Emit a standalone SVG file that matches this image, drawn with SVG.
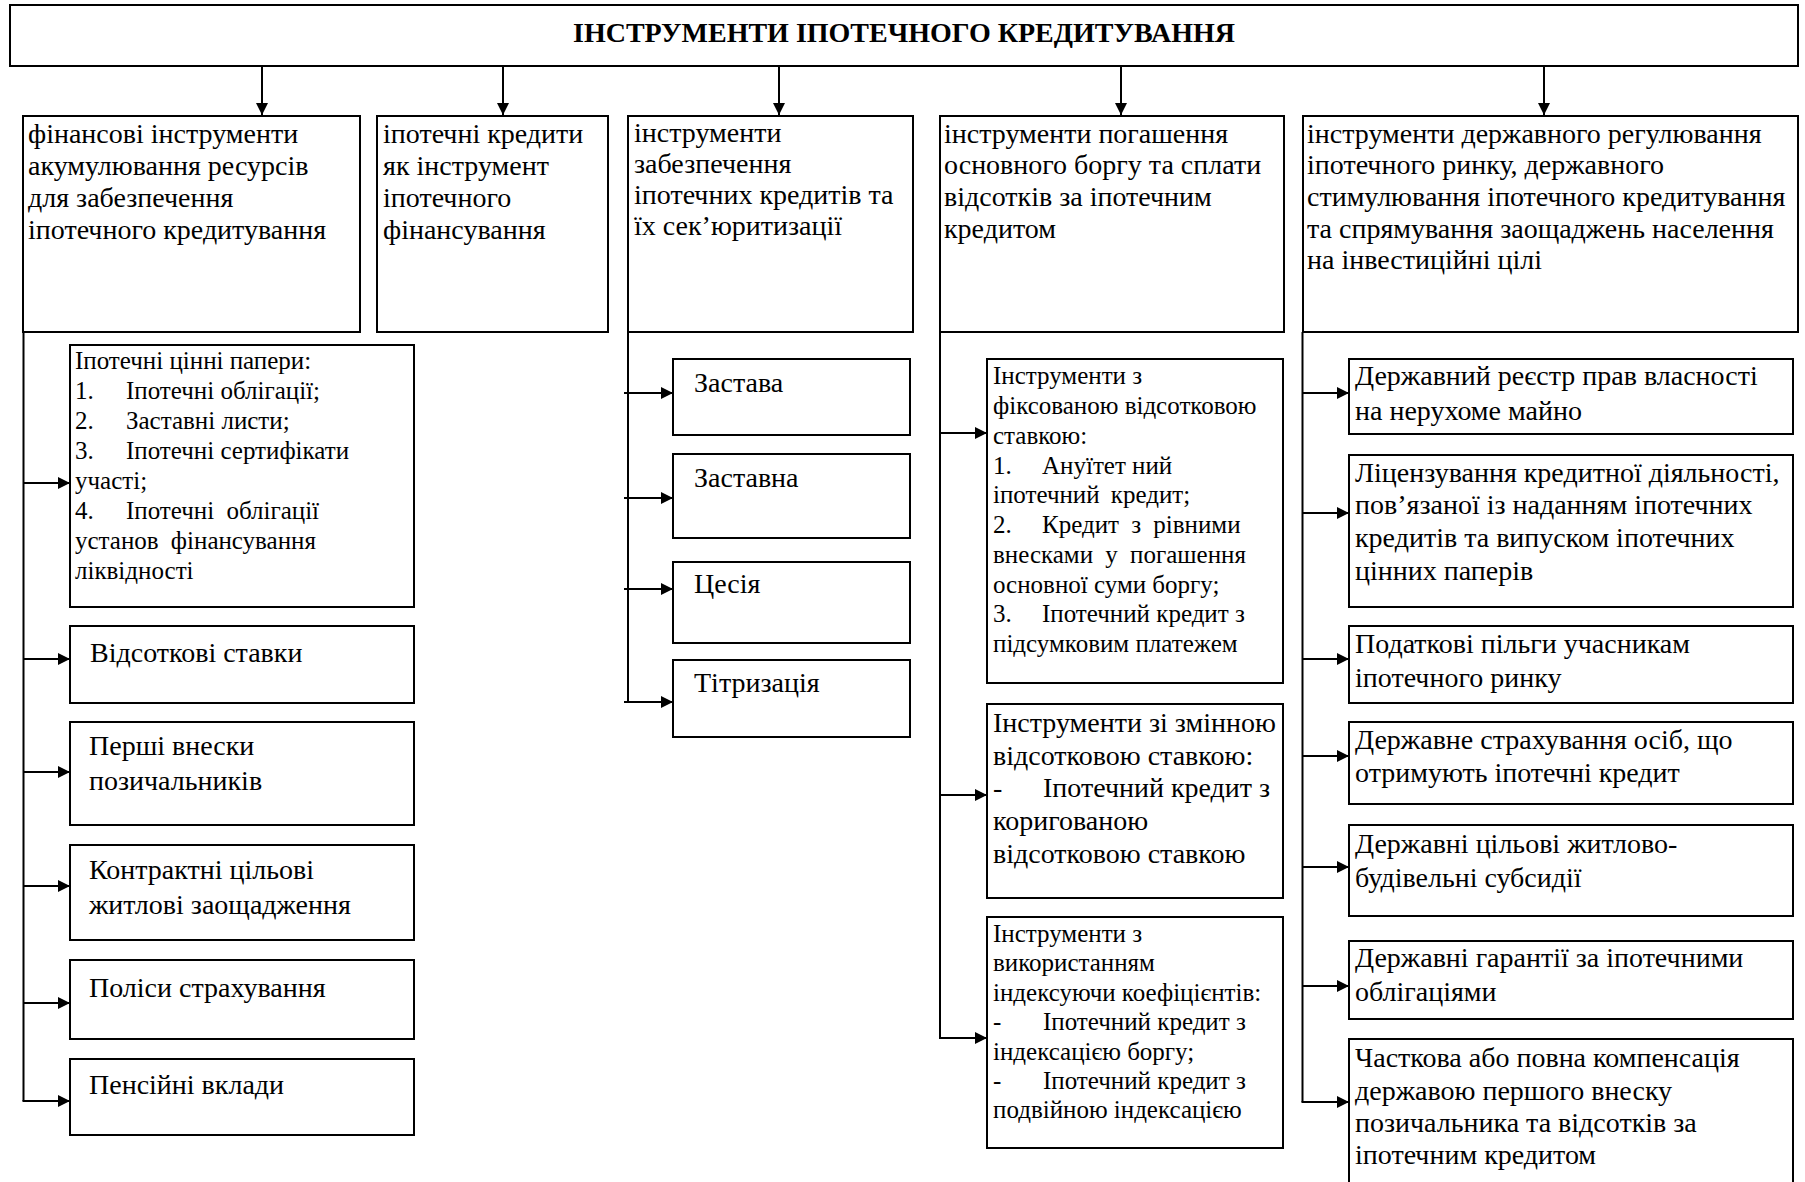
<svg xmlns="http://www.w3.org/2000/svg" width="1805" height="1182" viewBox="0 0 1805 1182">
<style>
.box{fill:#fff;stroke:#000;stroke-width:2}
.t{font-family:"Liberation Serif","Times New Roman",serif;font-size:28px;fill:#000}
.s{font-family:"Liberation Serif","Times New Roman",serif;font-size:25px;fill:#000}
.title{font-family:"Liberation Serif","Times New Roman",serif;font-size:28px;font-weight:bold;fill:#000}
.ln{stroke:#000;stroke-width:2;fill:none}
</style>
<defs>
<marker id="ah" markerUnits="userSpaceOnUse" markerWidth="13" markerHeight="13" refX="12" refY="6" orient="auto">
<path d="M0,0 L12,6 L0,12 z" fill="#000"/>
</marker>
</defs>
<rect width="1805" height="1182" fill="#fff"/>

<g id="connectors">
<line class="ln" x1="262" y1="66" x2="262" y2="115" marker-end="url(#ah)"/>
<line class="ln" x1="503" y1="66" x2="503" y2="115" marker-end="url(#ah)"/>
<line class="ln" x1="779" y1="66" x2="779" y2="115" marker-end="url(#ah)"/>
<line class="ln" x1="1121" y1="66" x2="1121" y2="115" marker-end="url(#ah)"/>
<line class="ln" x1="1544" y1="66" x2="1544" y2="115" marker-end="url(#ah)"/>

<line class="ln" x1="23.5" y1="332" x2="23.5" y2="1101"/>
<line class="ln" x1="23.5" y1="483" x2="70" y2="483" marker-end="url(#ah)"/>
<line class="ln" x1="23.5" y1="659" x2="70" y2="659" marker-end="url(#ah)"/>
<line class="ln" x1="23.5" y1="772" x2="70" y2="772" marker-end="url(#ah)"/>
<line class="ln" x1="23.5" y1="886" x2="70" y2="886" marker-end="url(#ah)"/>
<line class="ln" x1="23.5" y1="1003" x2="70" y2="1003" marker-end="url(#ah)"/>
<line class="ln" x1="22.5" y1="1101" x2="70" y2="1101" marker-end="url(#ah)"/>

<line class="ln" x1="628" y1="332" x2="628" y2="702"/>
<line class="ln" x1="624" y1="393" x2="673" y2="393" marker-end="url(#ah)"/>
<line class="ln" x1="624" y1="498" x2="673" y2="498" marker-end="url(#ah)"/>
<line class="ln" x1="624" y1="589" x2="673" y2="589" marker-end="url(#ah)"/>
<line class="ln" x1="624" y1="702" x2="673" y2="702" marker-end="url(#ah)"/>

<line class="ln" x1="940" y1="332" x2="940" y2="1038"/>
<line class="ln" x1="940" y1="433" x2="987" y2="433" marker-end="url(#ah)"/>
<line class="ln" x1="940" y1="795" x2="987" y2="795" marker-end="url(#ah)"/>
<line class="ln" x1="939" y1="1038" x2="987" y2="1038" marker-end="url(#ah)"/>

<line class="ln" x1="1302.5" y1="332" x2="1302.5" y2="1102"/>
<line class="ln" x1="1302.5" y1="393" x2="1349" y2="393" marker-end="url(#ah)"/>
<line class="ln" x1="1302.5" y1="513" x2="1349" y2="513" marker-end="url(#ah)"/>
<line class="ln" x1="1302.5" y1="659" x2="1349" y2="659" marker-end="url(#ah)"/>
<line class="ln" x1="1302.5" y1="756" x2="1349" y2="756" marker-end="url(#ah)"/>
<line class="ln" x1="1302.5" y1="867" x2="1349" y2="867" marker-end="url(#ah)"/>
<line class="ln" x1="1302.5" y1="986" x2="1349" y2="986" marker-end="url(#ah)"/>
<line class="ln" x1="1301.5" y1="1102" x2="1349" y2="1102" marker-end="url(#ah)"/>
</g>

<g id="root">
<rect class="box" x="10" y="5" width="1788" height="61"/>
<text class="title" x="904" y="42" text-anchor="middle">ІНСТРУМЕНТИ ІПОТЕЧНОГО КРЕДИТУВАННЯ</text>
</g>

<g id="catA">
<rect class="box" x="23" y="116" width="337" height="216"/>
<text class="t"><tspan x="28" y="143">фінансові інструменти</tspan><tspan x="28" y="175">акумулювання ресурсів</tspan><tspan x="28" y="207">для забезпечення</tspan><tspan x="28" y="239">іпотечного кредитування</tspan></text>
</g>
<g id="catB">
<rect class="box" x="377" y="116" width="231" height="216"/>
<text class="t"><tspan x="383" y="143">іпотечні кредити</tspan><tspan x="383" y="175">як інструмент</tspan><tspan x="383" y="207">іпотечного</tspan><tspan x="383" y="239">фінансування</tspan></text>
</g>
<g id="catC">
<rect class="box" x="628" y="116" width="285" height="216"/>
<text class="t"><tspan x="634" y="142">інструменти</tspan><tspan x="634" y="173">забезпечення</tspan><tspan x="634" y="204">іпотечних кредитів та</tspan><tspan x="634" y="235">їх сек’юритизації</tspan></text>
</g>
<g id="catD">
<rect class="box" x="940" y="116" width="344" height="216"/>
<text class="t"><tspan x="944" y="143">інструменти погашення</tspan><tspan x="944" y="174">основного боргу та сплати</tspan><tspan x="944" y="206">відсотків за іпотечним</tspan><tspan x="944" y="238">кредитом</tspan></text>
</g>
<g id="catE">
<rect class="box" x="1303" y="116" width="495" height="216"/>
<text class="t"><tspan x="1307" y="143">інструменти державного регулювання</tspan><tspan x="1307" y="174">іпотечного ринку, державного</tspan><tspan x="1307" y="206">стимулювання іпотечного кредитування</tspan><tspan x="1307" y="238">та спрямування заощаджень населення</tspan><tspan x="1307" y="269">на інвестиційні цілі</tspan></text>
</g>

<g id="a1">
<rect class="box" x="70" y="345" width="344" height="262"/>
<text class="s"><tspan x="75" y="369">Іпотечні цінні папери:</tspan><tspan x="75" y="399">1.</tspan><tspan x="126" y="399">Іпотечні облігації;</tspan><tspan x="75" y="429">2.</tspan><tspan x="126" y="429">Заставні листи;</tspan><tspan x="75" y="459">3.</tspan><tspan x="126" y="459">Іпотечні сертифікати</tspan><tspan x="75" y="489">участі;</tspan><tspan x="75" y="519">4.</tspan><tspan x="126" y="519" word-spacing="6">Іпотечні облігації</tspan><tspan x="75" y="549" word-spacing="6">установ фінансування</tspan><tspan x="75" y="579">ліквідності</tspan></text>
</g>
<g id="a2">
<rect class="box" x="70" y="626" width="344" height="77"/>
<text class="t" x="90" y="662">Відсоткові ставки</text>
</g>
<g id="a3">
<rect class="box" x="70" y="722" width="344" height="103"/>
<text class="t"><tspan x="89" y="755">Перші внески</tspan><tspan x="89" y="790">позичальників</tspan></text>
</g>
<g id="a4">
<rect class="box" x="70" y="845" width="344" height="95"/>
<text class="t"><tspan x="89" y="879">Контрактні цільові</tspan><tspan x="89" y="914">житлові заощадження</tspan></text>
</g>
<g id="a5">
<rect class="box" x="70" y="960" width="344" height="79"/>
<text class="t" x="89" y="997">Поліси страхування</text>
</g>
<g id="a6">
<rect class="box" x="70" y="1059" width="344" height="76"/>
<text class="t" x="89" y="1094">Пенсійні вклади</text>
</g>

<g id="c1">
<rect class="box" x="673" y="359" width="237" height="76"/>
<text class="t" x="694" y="392">Застава</text>
</g>
<g id="c2">
<rect class="box" x="673" y="454" width="237" height="84"/>
<text class="t" x="694" y="487">Заставна</text>
</g>
<g id="c3">
<rect class="box" x="673" y="562" width="237" height="81"/>
<text class="t" x="694" y="593">Цесія</text>
</g>
<g id="c4">
<rect class="box" x="673" y="660" width="237" height="77"/>
<text class="t" x="694" y="692">Тітризація</text>
</g>

<g id="d1">
<rect class="box" x="987" y="359" width="296" height="324"/>
<text class="s"><tspan x="993" y="384">Інструменти з</tspan><tspan x="993" y="414">фіксованою відсотковою</tspan><tspan x="993" y="444">ставкою:</tspan><tspan x="993" y="474">1.</tspan><tspan x="1042" y="474">Ануїтет ний</tspan><tspan x="993" y="503" word-spacing="5">іпотечний кредит;</tspan><tspan x="993" y="533">2.</tspan><tspan x="1042" y="533" word-spacing="6">Кредит з рівними</tspan><tspan x="993" y="563" word-spacing="6">внесками у погашення</tspan><tspan x="993" y="593">основної суми боргу;</tspan><tspan x="993" y="622">3.</tspan><tspan x="1042" y="622">Іпотечний кредит з</tspan><tspan x="993" y="652">підсумковим платежем</tspan></text>
</g>
<g id="d2">
<rect class="box" x="987" y="704" width="296" height="194"/>
<text class="t"><tspan x="993" y="732">Інструменти зі змінною</tspan><tspan x="993" y="765">відсотковою ставкою:</tspan><tspan x="993" y="797">-</tspan><tspan x="1043" y="797">Іпотечний кредит з</tspan><tspan x="993" y="830">коригованою</tspan><tspan x="993" y="863">відсотковою ставкою</tspan></text>
</g>
<g id="d3">
<rect class="box" x="987" y="917" width="296" height="231"/>
<text class="s"><tspan x="993" y="942">Інструменти з</tspan><tspan x="993" y="971">використанням</tspan><tspan x="993" y="1001">індексуючи коефіцієнтів:</tspan><tspan x="993" y="1030">-</tspan><tspan x="1043" y="1030">Іпотечний кредит з</tspan><tspan x="993" y="1060">індексацією боргу;</tspan><tspan x="993" y="1089">-</tspan><tspan x="1043" y="1089">Іпотечний кредит з</tspan><tspan x="993" y="1118">подвійною індексацією</tspan></text>
</g>

<g id="e1">
<rect class="box" x="1349" y="359" width="444" height="75"/>
<text class="t"><tspan x="1355" y="385">Державний реєстр прав власності</tspan><tspan x="1355" y="420">на нерухоме майно</tspan></text>
</g>
<g id="e2">
<rect class="box" x="1349" y="455" width="444" height="152"/>
<text class="t"><tspan x="1355" y="482">Ліцензування кредитної діяльності,</tspan><tspan x="1355" y="514">пов’язаної із наданням іпотечних</tspan><tspan x="1355" y="547">кредитів та випуском іпотечних</tspan><tspan x="1355" y="580">цінних паперів</tspan></text>
</g>
<g id="e3">
<rect class="box" x="1349" y="626" width="444" height="77"/>
<text class="t"><tspan x="1355" y="653">Податкові пільги учасникам</tspan><tspan x="1355" y="687">іпотечного ринку</tspan></text>
</g>
<g id="e4">
<rect class="box" x="1349" y="722" width="444" height="82"/>
<text class="t"><tspan x="1355" y="749">Державне страхування осіб, що</tspan><tspan x="1355" y="782">отримують іпотечні кредит</tspan></text>
</g>
<g id="e5">
<rect class="box" x="1349" y="825" width="444" height="91"/>
<text class="t"><tspan x="1355" y="853">Державні цільові житлово-</tspan><tspan x="1355" y="887">будівельні субсидії</tspan></text>
</g>
<g id="e6">
<rect class="box" x="1349" y="941" width="444" height="78"/>
<text class="t"><tspan x="1355" y="967">Державні гарантії за іпотечними</tspan><tspan x="1355" y="1001">облігаціями</tspan></text>
</g>
<g id="e7">
<rect class="box" x="1349" y="1039" width="444" height="160"/>
<text class="t"><tspan x="1355" y="1067">Часткова або повна компенсація</tspan><tspan x="1355" y="1100">державою першого внеску</tspan><tspan x="1355" y="1132">позичальника та відсотків за</tspan><tspan x="1355" y="1164">іпотечним кредитом</tspan></text>
</g>
</svg>
